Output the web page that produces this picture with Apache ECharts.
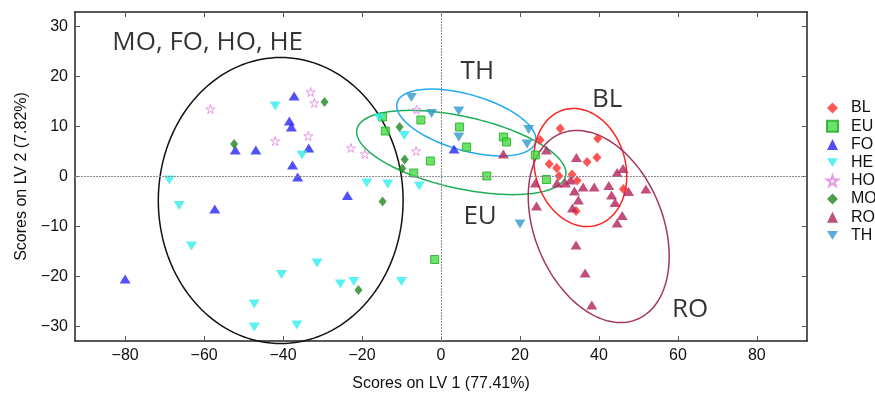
<!DOCTYPE html>
<html>
<head>
<meta charset="utf-8">
<script src="https://cdn.jsdelivr.net/npm/echarts@6/dist/echarts.min.js"></script>
<style>
html, body { margin: 0; padding: 0; background: #fff; }
#chart { width: 875px; height: 398px; }
</style>
</head>
<body>
<div id="chart"></div>
<script>
// PLS-DA scores, LV1 vs LV2
const groups = ['BL', 'EU', 'FO', 'HE', 'HO', 'MO', 'RO', 'TH'];

const blData = [[30.2, 9.6], [25.1, 7.3], [39.7, 7.6], [39.5, 3.8], [37.0, 2.9], [27.4, 2.5],
    [29.3, 1.7], [29.9, 0.1], [33.2, 0.4], [34.5, -0.8], [46.2, -2.5], [34.2, -6.9]];
const euData = [[-14.8, 11.9], [-14.1, 9.1], [-5.1, 11.3], [-2.7, 3.1], [-6.9, 0.7], [4.7, 9.9],
    [6.5, 5.9], [15.8, 7.9], [16.6, 6.9], [11.6, 0.1], [23.9, 4.3], [26.7, -0.6], [-1.6, -16.6]];
const foData = [[-52.1, 5.3], [-46.9, 5.3], [-37.2, 16.1], [-38.4, 11.1], [-37.9, 9.9], [-33.5, 5.7],
    [-37.6, 2.3], [-36.3, -0.1], [-23.7, -3.8], [-57.3, -6.5], [-80.0, -20.5], [3.3, 5.5]];
const heData = [[-42.0, 14.1], [-35.2, 4.3], [-15.6, 11.7], [-9.3, 8.2], [-68.8, -0.7], [-66.3, -5.8],
    [-63.2, -13.9], [-40.4, -19.6], [-47.3, -25.5], [-47.3, -30.1], [-36.5, -29.7], [-31.4, -17.3],
    [-25.5, -21.5], [-22.1, -21.0], [-10.0, -21.0], [-18.8, -1.3], [-13.5, -1.5], [-5.5, -1.9]];
const hoData = [[-58.4, 13.5], [-42.0, 7.1], [-33.0, 16.9], [-32.1, 14.7], [-33.6, 8.1], [-22.8, 5.7],
    [-19.3, 4.5], [-6.2, 13.4], [-6.3, 5.1]];
const moData = [[-52.4, 6.5], [-29.5, 14.9], [-10.5, 9.9], [-9.2, 3.4], [-9.8, 1.6], [-14.8, -5.0],
    [-20.9, -22.7]];
const roData = [[15.8, 4.5], [26.7, 5.3], [34.3, 3.8], [44.6, 0.8], [46.1, 1.6], [23.9, -1.3],
    [29.4, -1.3], [31.5, -1.3], [32.8, -0.7], [33.8, -2.9], [36.0, -2.1], [38.8, -2.1], [42.5, -1.8],
    [47.5, -3.0], [51.9, -2.5], [43.2, -3.7], [44.1, -5.2], [24.2, -5.9], [34.8, -4.7], [33.3, -6.3],
    [45.9, -7.8], [44.6, -9.3], [34.2, -13.7], [36.5, -19.3], [38.2, -25.7]];
const thData = [[-7.5, 15.8], [-2.4, 12.6], [4.5, 13.1], [4.5, 7.9], [22.2, 9.4], [21.8, 6.5],
    [20.0, -9.5]];

const xTicks = [-80, -60, -40, -20, 0, 20, 40, 60, 80];
const yTicks = [-30, -20, -10, 0, 10, 20, 30];

// confidence ellipses: centre x, centre y, then two conjugate semi-axis vectors
const ellipses = [
    [-40.6, -4.8, 31.0, 0, 0, -28.6],        // MO, FO, HO, HE
    [5.14, 4.8, 26.43, -4.66, -1.99, -7.02], // EU
    [6.41, 10.8, 17.52, -3.97, -1.95, -5.38],// TH
    [35.27, 1.8, 11.77, -1.72, 0, -11.68],   // BL
    [39.95, -10.0, 17.85, -5.96, 0, -18.26]  // RO
];
const ellipseColors = ['#111111', '#1fae5a', '#22aaee', '#ff2222', '#a3365f'];

const annotations = [
    ['MO, FO, HO, HE', -59.1, 26.8],
    ['TH', 9.2, 20.9],
    ['BL', 42.1, 15.4],
    ['EU', 9.9, -8.0],
    ['RO', 63.1, -26.6]
];

const starPath = 'path://M50,0 L61,35 L98,35 L68,57 L79,91 L50,70 L21,91 L32,57 L2,35 L39,35 Z';
const downTri = 'path://M0,0 L10,0 L5,8 Z';

const minus = v => String(v).replace('-', '\u2212');

const chart = echarts.init(document.getElementById('chart'));

function pts(name, data, symbol, size, color, border) {
    return {
        name: name,
        type: 'scatter',
        data: data,
        symbol: symbol,
        symbolSize: size,
        itemStyle: border ? { color: color, borderColor: border, borderWidth: 1 } : { color: color },
        z: 3
    };
}

const series = [
    pts('BL', blData, 'diamond', [9, 10], '#ff2a2a'),
    pts('EU', euData, 'rect', [8, 8], '#44dd44', '#22a822'),
    pts('FO', foData, 'triangle', [11, 9], '#2525f5'),
    pts('HE', heData, downTri, [11, 9], '#33eeee'),
    pts('HO', hoData, starPath, [9, 9], 'rgba(255,255,255,0)', '#e27fe0'),
    pts('MO', moData, 'diamond', [8, 10], '#1f861f'),
    pts('RO', roData, 'triangle', [11, 9], '#b2225a'),
    pts('TH', thData, downTri, [11, 9], '#3399cc'),
    {
        type: 'custom',
        name: 'ellipses',
        silent: true,
        data: ellipses,
        encode: { x: 0, y: 1 },
        z: 2,
        renderItem: function (params, api) {
            const cx = api.value(0), cy = api.value(1);
            const ux = api.value(2), uy = api.value(3), vx = api.value(4), vy = api.value(5);
            const points = [];
            for (let i = 0; i <= 160; i++) {
                const t = i / 160 * Math.PI * 2;
                points.push(api.coord([cx + ux * Math.cos(t) + vx * Math.sin(t),
                                       cy + uy * Math.cos(t) + vy * Math.sin(t)]));
            }
            return {
                type: 'polyline',
                shape: { points: points },
                style: { fill: null, stroke: ellipseColors[params.dataIndex], lineWidth: 1.5 }
            };
        }
    },
    {
        type: 'scatter',
        name: 'labels',
        silent: true,
        symbolSize: 0,
        data: annotations.map(a => ({ name: a[0], value: [a[1], a[2]] })),
        label: {
            show: true,
            position: 'inside',
            formatter: '{b}',
            color: '#000',
            fontFamily: 'Open Sans',
            fontSize: 26
        },
        markLine: {
            silent: true,
            symbol: 'none',
            label: { show: false },
            lineStyle: { color: '#8a8a8a', width: 1, type: [2, 1] },
            data: [{ xAxis: 0 }, { yAxis: 0 }]
        },
        z: 1
    }
];

const axisText = { color: '#111', fontFamily: 'Liberation Sans', fontSize: 16 };
const frameLine = { show: true, onZero: false, lineStyle: { color: '#222', width: 1.5 } };

chart.setOption({
    animation: false,
    backgroundColor: '#fff',
    grid: { left: 75, right: 68, top: 12, bottom: 57 },
    legend: {
        data: groups,
        orient: 'vertical',
        left: 821,
        top: 95,
        itemWidth: 11,
        itemHeight: 11,
        itemGap: 2.2,
        textStyle: { color: '#111', fontFamily: 'Liberation Sans', fontSize: 16, padding: [0, 0, 0, 8] }
    },
    xAxis: [{
        type: 'value',
        min: -92.7,
        max: 92.7,
        position: 'bottom',
        name: 'Scores on LV 1 (77.41%)',
        nameLocation: 'middle',
        nameGap: 35,
        nameTextStyle: axisText,
        axisLine: frameLine,
        axisTick: { inside: true, length: 5, customValues: xTicks, lineStyle: { color: '#555' } },
        axisLabel: Object.assign({ customValues: xTicks, margin: 7, formatter: minus }, axisText),
        splitLine: { show: false }
    }, {
        type: 'value',
        min: -92.7,
        max: 92.7,
        position: 'top',
        axisLine: frameLine,
        axisTick: { inside: true, length: 5, customValues: xTicks, lineStyle: { color: '#555' } },
        axisLabel: { show: false },
        splitLine: { show: false }
    }],
    yAxis: [{
        type: 'value',
        min: -32.9,
        max: 32.9,
        position: 'left',
        name: 'Scores on LV 2 (7.82%)',
        nameLocation: 'middle',
        nameGap: 45,
        nameTextStyle: axisText,
        axisLine: frameLine,
        axisTick: { inside: true, length: 5, customValues: yTicks, lineStyle: { color: '#555' } },
        axisLabel: Object.assign({ customValues: yTicks, margin: 7, formatter: minus }, axisText),
        splitLine: { show: false }
    }, {
        type: 'value',
        min: -32.9,
        max: 32.9,
        position: 'right',
        axisLine: frameLine,
        axisTick: { inside: true, length: 5, customValues: yTicks, lineStyle: { color: '#555' } },
        axisLabel: { show: false },
        splitLine: { show: false }
    }],
    series: series
});
</script>
</body>
</html>
